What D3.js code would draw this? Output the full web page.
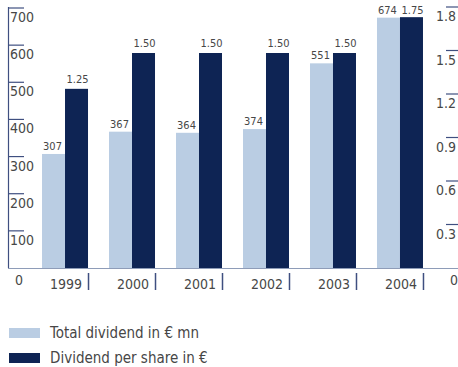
<!DOCTYPE html>
<html>
<head>
<meta charset="utf-8">
<script src="https://cdn.jsdelivr.net/npm/d3@7"></script>
<style>
  html, body { margin: 0; padding: 0; background: #fff; }
  svg { display: block; }
  text { font-family: "Liberation Sans Narrow", "DejaVu Sans Condensed", "Liberation Sans", sans-serif; fill: #474747; }
</style>
</head>
<body>
<svg id="chart" width="458" height="367"></svg>
<script>
// Dividend history
const years = ["1999", "2000", "2001", "2002", "2003", "2004"];
const totalDividend = [307, 367, 364, 374, 551, 674];        // € mn
const dividendPerShare = [1.25, 1.50, 1.50, 1.50, 1.50, 1.75]; // €
const leftTicks = [100, 200, 300, 400, 500, 600, 700];
const rightTicks = [0.3, 0.6, 0.9, 1.2, 1.5, 1.8];
const legendLabels = ["Total dividend in € mn", "Dividend per share in €"];

const lightBlue = "#bacde3";
const darkBlue = "#0e2454";
const axisColor = "#3f4f80";
const baseColor = "#8e9cb8";

const svg = d3.select("#chart");
const baseY = 268, topY = 8;

const x = d3.scaleBand().domain(years).range([31.5, 433.5])
  .paddingInner(21 / 67).paddingOuter(0.157);
const xs = d3.scaleBand().domain(["total", "share"]).range([0, x.bandwidth()]);
const yL = d3.scaleLinear().domain([0, 700]).range([baseY, topY]);
const yR = d3.scaleLinear().domain([0, 1.8]).range([baseY, topY + 2]);

// left axis: vertical rule, ticks with labels hanging below
svg.append("line").attr("x1", 8.5).attr("x2", 8.5).attr("y1", topY - 1).attr("y2", baseY)
  .attr("stroke", axisColor).attr("stroke-width", 1.2);
const lt = svg.append("g").selectAll("g").data(leftTicks).join("g")
  .attr("transform", d => `translate(0,${yL(d)})`);
lt.append("line").attr("x1", 8).attr("x2", 24).attr("stroke", axisColor).attr("stroke-width", 1.2);
lt.append("text").attr("x", 10).attr("y", 14).attr("font-size", 14).text(d => d);
svg.append("text").attr("x", 15).attr("y", 285).attr("font-size", 14).text("0");

// right axis ticks (tick positions follow the 0–1.8 grid)
const yRt = d3.scaleLinear().domain([0, 1.8]).range([baseY, topY - 1]);
const rt = svg.append("g").selectAll("g").data(rightTicks).join("g")
  .attr("transform", d => `translate(0,${yRt(d)})`);
rt.append("line").attr("x1", 446).attr("x2", 458).attr("stroke", axisColor).attr("stroke-width", 1.2);
rt.append("text").attr("x", 456).attr("y", 14).attr("text-anchor", "end").attr("font-size", 14)
  .text(d => d3.format(".1f")(d));
svg.append("text").attr("x", 450).attr("y", 285).attr("font-size", 14).text("0");

// bars
const groups = svg.append("g").selectAll("g").data(years).join("g")
  .attr("transform", d => `translate(${x(d)},0)`);
groups.append("rect")
  .attr("x", xs("total")).attr("width", xs.bandwidth())
  .attr("y", (d, i) => yL(totalDividend[i]))
  .attr("height", (d, i) => baseY - yL(totalDividend[i]))
  .attr("fill", lightBlue);
groups.append("rect")
  .attr("x", xs("share")).attr("width", xs.bandwidth())
  .attr("y", (d, i) => yR(dividendPerShare[i]))
  .attr("height", (d, i) => baseY - yR(dividendPerShare[i]))
  .attr("fill", darkBlue);

// value labels
groups.append("text")
  .attr("x", xs("total") + xs.bandwidth() / 2 - 1)
  .attr("y", (d, i) => yL(totalDividend[i]) - 4)
  .attr("text-anchor", "middle").attr("font-size", 11)
  .text((d, i) => totalDividend[i]);
groups.append("text")
  .attr("x", xs("share") + xs.bandwidth() / 2 + 1)
  .attr("y", (d, i) => yR(dividendPerShare[i]) - (i === 5 ? 3 : 6))
  .attr("text-anchor", "middle").attr("font-size", 11)
  .text((d, i) => d3.format(".2f")(dividendPerShare[i]));

// baseline
svg.append("line").attr("x1", 8).attr("x2", 458).attr("y1", baseY + 0.5).attr("y2", baseY + 0.5)
  .attr("stroke", baseColor).attr("stroke-width", 1.2);

// year labels with separator ticks
groups.append("line")
  .attr("x1", x.bandwidth() + 0.5).attr("x2", x.bandwidth() + 0.5)
  .attr("y1", 273).attr("y2", 290).attr("stroke", axisColor).attr("stroke-width", 1.5);
groups.append("text")
  .attr("x", x.bandwidth() - 6).attr("y", 289)
  .attr("text-anchor", "end").attr("font-size", 14).text(d => d);

// legend
const legend = svg.append("g").selectAll("g").data(legendLabels).join("g")
  .attr("transform", (d, i) => `translate(9,${328 + i * 25})`);
legend.append("rect").attr("width", 31).attr("height", 10)
  .attr("fill", (d, i) => i === 0 ? lightBlue : darkBlue);
legend.append("text").attr("x", 41).attr("y", 10).attr("font-size", 15).text(d => d);
</script>
</body>
</html>
